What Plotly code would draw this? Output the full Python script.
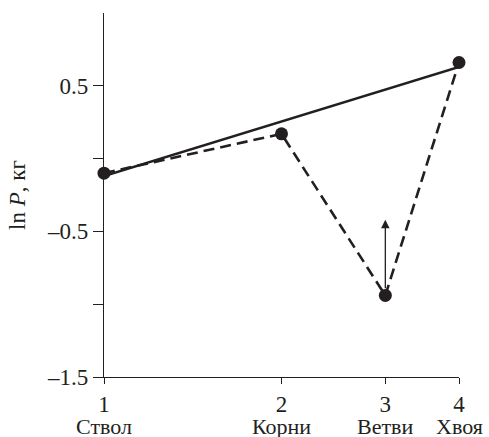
import math
import plotly.graph_objects as go

# Data
organs = ["Ствол", "Корни", "Ветви", "Хвоя"]
x_pos = [1, 2, 3, 4]
ln_p = [-0.10, 0.17, -0.94, 0.66]
fit_x = [1, 4]
fit_y = [-0.12, 0.63]
arrow_x = 3
arrow_from = -0.90
arrow_to = -0.42
y_ticks = [-1.5, -1.0, -0.5, 0.0, 0.5]
y_ticktext = ["–1.5", "", "–0.5", "", "0.5"]

ink = "#231f20"
font = dict(family="Liberation Serif", size=23, color=ink)
name_font = dict(family="Liberation Serif", size=22, color=ink)

fig = go.Figure()
fig.add_trace(go.Scatter(
    x=fit_x, y=fit_y, mode="lines",
    line=dict(color=ink, width=2.6), cliponaxis=False, showlegend=False))
fig.add_trace(go.Scatter(
    x=x_pos, y=ln_p, mode="lines+markers",
    line=dict(color=ink, width=2.6, dash="11px,6px"),
    marker=dict(color=ink, size=13), cliponaxis=False, showlegend=False))

fig.add_annotation(
    x=math.log10(arrow_x), y=arrow_to, ax=math.log10(arrow_x), ay=arrow_from,
    xref="x", yref="y", axref="x", ayref="y", text="",
    showarrow=True, arrowhead=2, arrowsize=1.3, arrowwidth=1.3, arrowcolor=ink)

for xv, name in zip(x_pos, organs):
    fig.add_annotation(
        x=math.log10(xv), y=0, xref="x", yref="paper", text=name,
        showarrow=False, yanchor="middle", xanchor="center", yshift=-49,
        font=name_font)

fig.update_layout(
    width=489, height=437,
    margin=dict(l=104, r=30, t=13, b=60, autoexpand=False),
    paper_bgcolor="white", plot_bgcolor="white",
    font=font,
)
fig.update_xaxes(
    type="log", range=[0, math.log10(4)],
    tickvals=x_pos, ticktext=[str(v) for v in x_pos],
    ticks="outside", ticklen=6, tickwidth=1.3, tickcolor=ink,
    showline=True, linecolor=ink, linewidth=1.3, automargin=False,
    showgrid=False, zeroline=False, tickfont=font)
fig.update_yaxes(
    range=[-1.5, 1.0], tickvals=y_ticks, ticktext=y_ticktext,
    ticks="outside", ticklen=10, tickwidth=1.3, tickcolor=ink,
    showline=True, linecolor=ink, linewidth=1.3, automargin=False,
    showgrid=False, zeroline=False, tickfont=font,
    title=dict(text="ln <i>P</i>, кг", font=font, standoff=14))

fig.write_html(
    "out.html",
    config={"displayModeBar": False},
    post_script="document.body.style.margin='0';document.body.style.overflow='hidden';",
)
